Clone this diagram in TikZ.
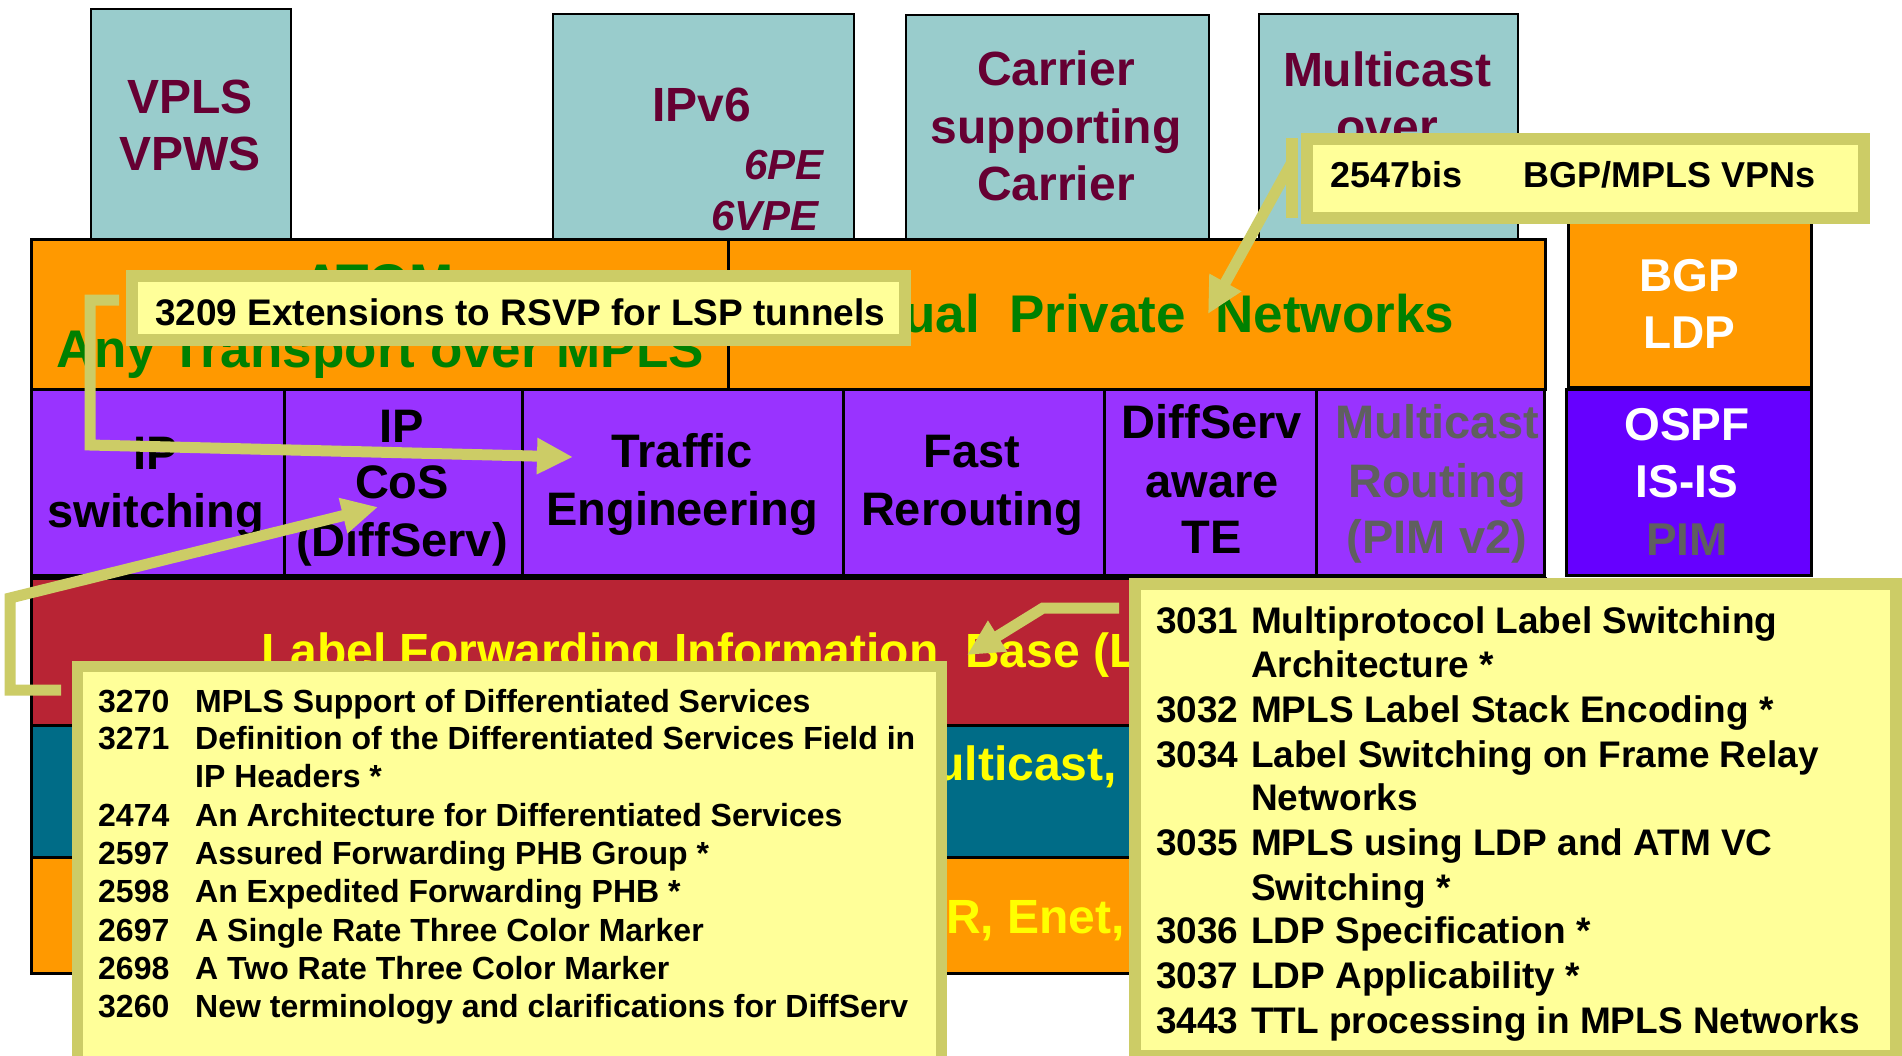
\documentclass[tikz,border=0pt]{standalone}
\usepackage{fontspec}
\setmainfont{Liberation Sans}
\usetikzlibrary{arrows.meta}
\definecolor{ltteal}{HTML}{99CCCC}
\definecolor{maroon}{HTML}{660033}
\definecolor{orng}{HTML}{FF9900}
\definecolor{grn}{HTML}{008000}
\definecolor{purp}{HTML}{9933FF}
\definecolor{viol}{HTML}{6600FF}
\definecolor{redb}{HTML}{B82434}
\definecolor{blueb}{HTML}{006C87}
\definecolor{yel}{HTML}{FFFF00}
\definecolor{cfill}{HTML}{FFFF99}
\definecolor{cline}{HTML}{CCCC66}
\definecolor{gry}{HTML}{5F5F5F}
\begin{document}
\begin{tikzpicture}[x=1pt,y=-1pt,
  box/.style={draw=black, line width=2.5pt, inner sep=0pt, anchor=north west},
  callout/.style={draw=cline, fill=cfill, line width=12pt, inner sep=0pt, anchor=north west},
  lab/.style={inner sep=0pt, anchor=base},
  labw/.style={inner sep=0pt, anchor=base west},
  ftop/.style={font=\fontsize{48}{58}\selectfont\bfseries, text=maroon},
  fital/.style={font=\fontsize{42}{50}\selectfont\bfseries\itshape, text=maroon},
  fgrn/.style={font=\fontsize{53}{64}\selectfont\bfseries, text=grn},
  fmid/.style={font=\fontsize{47}{57}\selectfont\bfseries, text=black},
  fwht/.style={font=\fontsize{46}{57}\selectfont\bfseries, text=white},
  fband/.style={font=\fontsize{48}{58}\selectfont\bfseries, text=yel},
  fcall/.style={font=\fontsize{37}{44}\selectfont\bfseries, text=black},
  fsmall/.style={font=\fontsize{32}{38}\selectfont\bfseries, text=black},
  conn/.style={draw=cline, line width=11pt, line join=miter},
  tip/.style={-{Triangle[length=36pt,width=34pt]}}
]
\useasboundingbox (0,0) rectangle (1902,1055);
\clip (0,0) rectangle (1902,1055);
\fill[white] (0,0) rectangle (1902,1055);

% applications on top
\node[box, line width=2pt, fill=ltteal, minimum width=200pt, minimum height=230pt] (vpls) at (90,8) {};
\node[box, line width=2pt, fill=ltteal, minimum width=301pt, minimum height=225pt] (ipv6) at (552,13) {};
\node[box, line width=2pt, fill=ltteal, minimum width=303pt, minimum height=224pt] (csc) at (905,14) {};
\node[box, line width=2pt, fill=ltteal, minimum width=259pt, minimum height=225pt] (mco) at (1258,13) {};

% service layer
\node[box, fill=orng, minimum width=697pt, minimum height=150pt] (atom) at (30,238) {};
\node[box, fill=orng, minimum width=817pt, minimum height=150pt] (vpn) at (727,238) {};
\node[box, fill=orng, minimum width=243pt, minimum height=181pt] (bgp) at (1567,205) {};

% feature layer
\node[box, fill=purp, minimum width=253pt, minimum height=186pt] (ipsw) at (30,388) {};
\node[box, fill=purp, minimum width=238pt, minimum height=186pt] (ipcos) at (283,388) {};
\node[box, fill=purp, minimum width=321pt, minimum height=186pt] (te) at (521,388) {};
\node[box, fill=purp, minimum width=261pt, minimum height=186pt] (frr) at (842,388) {};
\node[box, fill=purp, minimum width=212pt, minimum height=186pt] (dste) at (1103,388) {};
\node[box, fill=purp, minimum width=228pt, minimum height=186pt] (mcr) at (1315,388) {};
\node[box, fill=viol, minimum width=245pt, minimum height=186pt] (ospf) at (1565,388) {};

% forwarding layers
\node[box, fill=redb, minimum width=1514pt, minimum height=147pt] (lfib) at (30,577) {};
\node[box, fill=blueb, minimum width=1514pt, minimum height=132pt] (fwd) at (30,724) {};
\node[box, fill=orng, minimum width=1514pt, minimum height=116pt] (ltwo) at (30,856) {};

% labels of the application boxes
\node[lab,ftop] (vplsA) at (190,113) {VPLS};
\node[lab,ftop] (vplsB) at (190,170) {VPWS};
\node[lab,ftop] (ipv6A) at (702,121) {IPv6};
\node[lab,fital,anchor=base east] (ipv6B) at (824,179) {6PE};
\node[lab,fital,anchor=base east] (ipv6C) at (819,230) {6VPE};
\node[lab,ftop] (cscA) at (1056,85) {Carrier};
\node[lab,ftop] (cscB) at (1056,143) {supporting};
\node[lab,ftop] (cscC) at (1056,200) {Carrier};
\node[lab,ftop] (mcoA) at (1387,86) {Multicast};
\node[lab,ftop] (mcoB) at (1387,143) {over};

% labels of the service layer
\node[lab,fgrn] (atomA) at (378,301) {ATOM};
\node[lab,fgrn] (atomB) at (380,367) {Any Transport over MPLS};
\node[lab,fgrn] (vpnA) at (1135,332) {Virtual\ \ Private\ \ Networks};
\node[lab,fwht] (bgpA) at (1689,291) {BGP};
\node[lab,fwht] (bgpB) at (1689,348) {LDP};

% labels of the feature layer
\node[lab,fmid] (ipswA) at (156,469) {IP};
\node[lab,fmid] (ipswB) at (156,527) {switching};
\node[lab,fmid] (ipcosA) at (402,442) {IP};
\node[lab,fmid] (ipcosB) at (402,498) {CoS};
\node[lab,fmid] (ipcosC) at (402,556) {(DiffServ)};
\node[lab,fmid] (teA) at (682,467) {Traffic};
\node[lab,fmid] (teB) at (682,525) {Engineering};
\node[lab,fmid] (frrA) at (972,467) {Fast};
\node[lab,fmid] (frrB) at (972,525) {Rerouting};
\node[lab,fmid] (dsteA) at (1212,438) {DiffServ};
\node[lab,fmid] (dsteB) at (1212,497) {aware};
\node[lab,fmid] (dsteC) at (1212,553) {TE};
\node[lab,fmid,text=gry] (mcrA) at (1437,438) {Multicast};
\node[lab,fmid,text=gry] (mcrB) at (1437,497) {Routing};
\node[lab,fmid,text=gry] (mcrC) at (1437,553) {(PIM v2)};
\node[lab,fwht] (ospfA) at (1687,440) {OSPF};
\node[lab,fwht] (ospfB) at (1687,497) {IS-IS};
\node[lab,fwht,text=gry] (ospfC) at (1687,555) {PIM};

% labels of the forwarding layers
\node[labw,fband] (lfibA) at (261,667) {Label Forwarding Information\ \ Base (L};
\node[lab,fband,anchor=base east] (fwdA) at (1117,780) {Multicast,};
\node[lab,fband,anchor=base east] (ltwoA) at (1125,933) {FR, Enet,};

% callout boxes (anchored at the outer edge of their frames)
\node[callout, minimum width=773pt, minimum height=64pt] (c3209) at (126,270) {};
\node[callout, minimum width=557pt, minimum height=79pt] (c2547) at (1301,133) {};
\node[callout, line width=11pt, minimum width=864pt, minimum height=420pt] (cdiff) at (72,661) {};
\node[callout, minimum width=761pt, minimum height=472pt] (cmpls) at (1129,578) {};

% connector end points
\coordinate (k1a) at ([xshift=-7pt,yshift=8pt]c3209.west);
\coordinate (k1b) at (90,300);
\coordinate (k1c) at (90,445);
\coordinate (k1t) at (573,457);
\coordinate (k2top) at ([xshift=-9pt,yshift=-5pt]c2547.north west);
\coordinate (k2bot) at ([xshift=-9pt,yshift=6pt]c2547.south west);
\coordinate (k2a) at (1292,162);
\coordinate (k2t) at (1208,314);
\coordinate (k3a) at ([xshift=-11pt,yshift=-29pt]cdiff.north west);
\coordinate (k3b) at (10,690);
\coordinate (k3c) at (10,598);
\coordinate (k3t) at (378,507);
\coordinate (k4a) at ([xshift=-10pt,yshift=-30pt]cmpls.north west);
\coordinate (k4b) at (1043,608);
\coordinate (k4t) at (967,655);

% connectors
\draw[conn,tip] (k1a) -- (k1b) -- (k1c) -- (k1t);
\draw[conn,line width=12pt] (k2top) -- (k2bot);
\draw[conn,tip] (k2a) -- (k2t);
\draw[conn,tip] (k3a) -- (k3b) -- (k3c) -- (k3t);
\draw[conn,tip] (k4a) -- (k4b) -- (k4t);

% callout texts
\node[labw,fcall] (t3209) at (155,325) {3209 Extensions to RSVP for LSP tunnels};
\node[labw,font=\fontsize{36}{44}\selectfont\bfseries] (t2547a) at (1330,187) {2547bis};
\node[labw,font=\fontsize{36}{44}\selectfont\bfseries] (t2547b) at (1523,187) {BGP/MPLS VPNs};

\node[labw,fsmall] (d1) at (98,712) {\makebox[97pt][l]{3270}MPLS Support of Differentiated Services};
\node[labw,fsmall] (d2) at (98,749) {\makebox[97pt][l]{3271}Definition of the Differentiated Services Field in};
\node[labw,fsmall] (d3) at (195,787) {IP Headers *};
\node[labw,fsmall] (d4) at (98,826) {\makebox[97pt][l]{2474}An Architecture for Differentiated Services};
\node[labw,fsmall] (d5) at (98,864) {\makebox[97pt][l]{2597}Assured Forwarding PHB Group *};
\node[labw,fsmall] (d6) at (98,902) {\makebox[97pt][l]{2598}An Expedited Forwarding PHB *};
\node[labw,fsmall] (d7) at (98,941) {\makebox[97pt][l]{2697}A Single Rate Three Color Marker};
\node[labw,fsmall] (d8) at (98,979) {\makebox[97pt][l]{2698}A Two Rate Three Color Marker};
\node[labw,fsmall] (d9) at (98,1017) {\makebox[97pt][l]{3260}New terminology and clarifications for DiffServ};

\node[labw,fcall] (m1) at (1156,633) {\makebox[95pt][l]{3031}Multiprotocol Label Switching};
\node[labw,fcall] (m2) at (1251,677) {Architecture *};
\node[labw,fcall] (m3) at (1156,722) {\makebox[95pt][l]{3032}MPLS Label Stack Encoding *};
\node[labw,fcall] (m4) at (1156,767) {\makebox[95pt][l]{3034}Label Switching on Frame Relay};
\node[labw,fcall] (m5) at (1251,810) {Networks};
\node[labw,fcall] (m6) at (1156,855) {\makebox[95pt][l]{3035}MPLS using LDP and ATM VC};
\node[labw,fcall] (m7) at (1251,900) {Switching *};
\node[labw,fcall] (m8) at (1156,943) {\makebox[95pt][l]{3036}LDP Specification *};
\node[labw,fcall] (m9) at (1156,988) {\makebox[95pt][l]{3037}LDP Applicability *};
\node[labw,fcall] (m10) at (1156,1033) {\makebox[95pt][l]{3443}TTL processing in MPLS Networks};
\end{tikzpicture}
\end{document}
